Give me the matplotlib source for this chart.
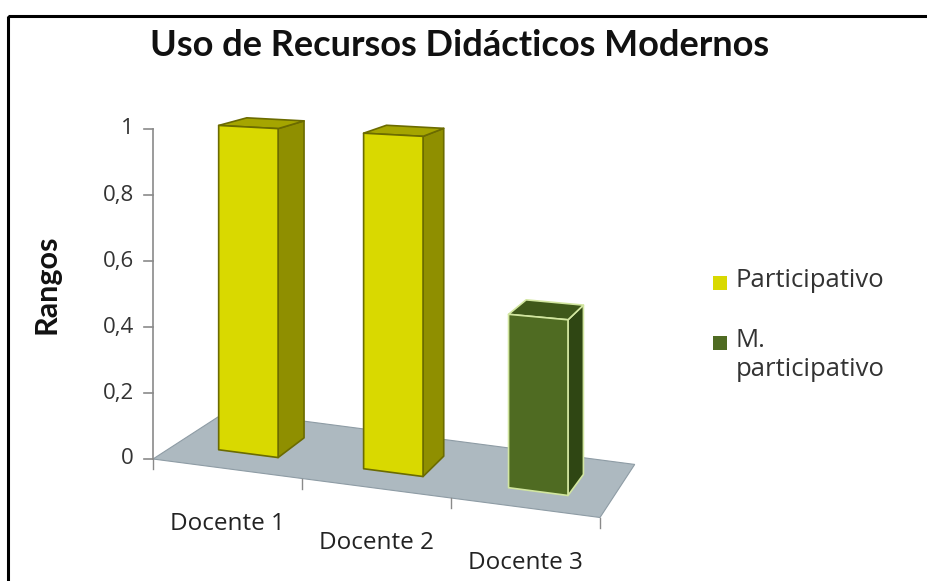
import matplotlib
matplotlib.use("Agg")
import matplotlib.pyplot as plt
from matplotlib import font_manager
from matplotlib.patches import Polygon, Rectangle

# ---------------- data ----------------
categories = ["Docente 1", "Docente 2", "Docente 3"]
series_names = ["Participativo", "M.\nparticipativo"]
participativo = [1.0, 1.0, 0.0]
m_participativo = [0.0, 0.0, 0.5]
y_ticks = [0, 0.2, 0.4, 0.6, 0.8, 1.0]
y_tick_labels = ["0", "0,2", "0,4", "0,6", "0,8", "1"]
title = "Uso de Recursos Didácticos Modernos"
y_label = "Rangos"

# ---------------- style ----------------
def pick(families):
    for f in families:
        try:
            font_manager.findfont(font_manager.FontProperties(family=f), fallback_to_default=False)
            return f
        except Exception:
            pass
    return "DejaVu Sans"

FONT = pick(["Open Sans", "Noto Sans", "Lato"])
TFONT = pick(["Lato", "Open Sans"])

face_cols = [
    dict(front="#D9D900", side="#8F8F00", top="#A5A500", edge="#6B6B00", legend="#D9D900"),
    dict(front="#4F6B22", side="#2F4613", top="#3F581A", edge="#D2E6A0", legend="#4F6B22"),
]
series_values = [participativo, m_participativo]

# projection parameters (oblique perspective, pixel space)
O = (153.0, 459.0)        # floor front-left corner
EX = (149.0, 19.5)        # one category step along front edge
S0 = 330.0                # pixels per value unit at the axis
K = 0.035                 # growth of vertical scale per category (perspective)
VP = (994.0, -85.0)       # vanishing point of depth lines
LAM = 0.0966
N = len(categories)
D0, D1 = 0.29, 0.69       # bar depth range
HW = 0.205                # bar half-width (category units)


def proj(x, d, z):
    w = 1.0 + LAM * d
    u = (O[0] + x * EX[0] + d * LAM * VP[0]) / w
    v = (O[1] + x * EX[1] - z * S0 * (1 + K * x) + d * LAM * VP[1]) / w
    return (u, v)


W, H = 928, 581
fig = plt.figure(figsize=(W / 100, H / 100), dpi=100)
ax = fig.add_axes([0, 0, 1, 1])
ax.set_xlim(0, W)
ax.set_ylim(H, 0)
ax.axis("off")

# outer border
ax.add_patch(Rectangle((8, 16), W, H, fill=False, edgecolor="black", lw=2.2))

# floor
floor = [proj(0, 0, 0), proj(N, 0, 0), proj(N, 1, 0), proj(0, 1, 0)]
ax.add_patch(Polygon(floor, closed=True, facecolor="#ADB9C0", edgecolor="#8E9CA5", lw=0.8, zorder=1))

# category ticks on front edge
for i in range(N + 1):
    a = proj(i, 0, 0)
    ax.plot([a[0], a[0]], [a[1], a[1] + 10], color="#8A8A8A", lw=1, zorder=1)

# y axis
a0 = proj(0, 0, 0)
a1 = proj(0, 0, max(y_ticks))
ax.plot([a0[0], a1[0]], [a0[1], a1[1]], color="#8A8A8A", lw=1.2, zorder=1)
for t, lab in zip(y_ticks, y_tick_labels):
    p = proj(0, 0, t)
    ax.plot([p[0] - 9, p[0]], [p[1], p[1]], color="#8A8A8A", lw=1.2)
    ax.text(p[0] - 19, p[1], lab, ha="right", va="center", fontsize=16,
            family=FONT, color="#333333")

# bars
for s, vals in enumerate(series_values):
    c = face_cols[s]
    for i, v in enumerate(vals):
        if v <= 0:
            continue
        xl, xr = i + 0.5 - HW, i + 0.5 + HW
        side = [proj(xr, D0, 0), proj(xr, D1, 0), proj(xr, D1, v), proj(xr, D0, v)]
        top = [proj(xl, D0, v), proj(xr, D0, v), proj(xr, D1, v), proj(xl, D1, v)]
        front = [proj(xl, D0, 0), proj(xr, D0, 0), proj(xr, D0, v), proj(xl, D0, v)]
        for poly, fc in ((side, c["side"]), (top, c["top"]), (front, c["front"])):
            ax.add_patch(Polygon(poly, closed=True, facecolor=fc, edgecolor=c["edge"],
                                 lw=1.2, joinstyle="round", zorder=3))

# category labels
for i, name in enumerate(categories):
    p = proj(i + 0.5, 0, 0)
    ax.text(p[0], p[1] + 55, name, ha="center", va="center", fontsize=17.5,
            family=FONT, color="#222222")

# titles
ax.text(460, 45, title, ha="center", va="center", fontsize=26, fontweight="bold",
        family=TFONT, color="#111111")
ax.text(47, 284, y_label, ha="center", va="center", rotation=90, fontsize=22,
        fontweight="bold", family=TFONT, color="#111111")

# legend
leg_y = [283, 343]
for s, name in enumerate(series_names):
    y = leg_y[s]
    ax.add_patch(Rectangle((713, y - 7), 14, 14, facecolor=face_cols[s]["legend"], edgecolor="none"))
    ax.text(736, y - 15, name, ha="left", va="top", fontsize=18.5, family=FONT,
            color="#333333", linespacing=1.2)

fig.savefig("out.png", dpi=100)
